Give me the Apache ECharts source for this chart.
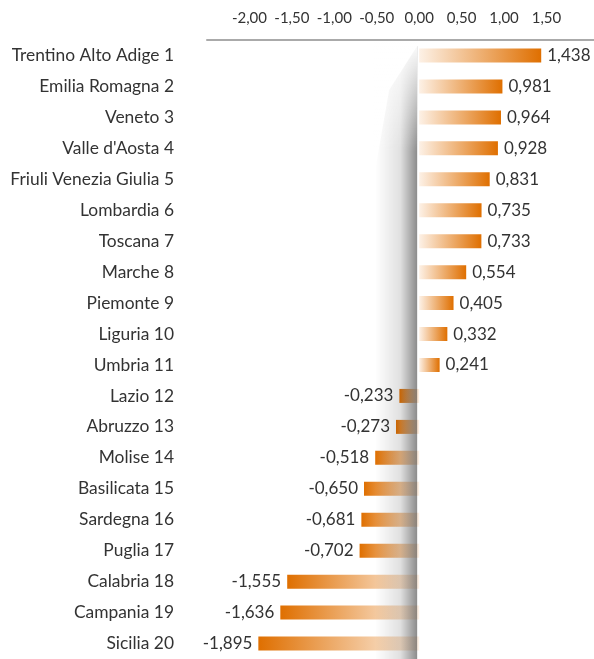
<!DOCTYPE html>
<html>
<head>
<meta charset="utf-8">
<script src="https://cdn.jsdelivr.net/npm/echarts@6/dist/echarts.min.js"></script>
<style>
    html, body { margin: 0; padding: 0; background: #fff; }
    #grafico { width: 594px; height: 659px; }
</style>
</head>
<body>
<div id="grafico" data-grafico></div>
<script>
const regioni = [
    'Trentino Alto Adige 1', 'Emilia Romagna 2', 'Veneto 3', "Valle d'Aosta 4",
    'Friuli Venezia Giulia 5', 'Lombardia 6', 'Toscana 7', 'Marche 8', 'Piemonte 9',
    'Liguria 10', 'Umbria 11', 'Lazio 12', 'Abruzzo 13', 'Molise 14', 'Basilicata 15',
    'Sardegna 16', 'Puglia 17', 'Calabria 18', 'Campania 19', 'Sicilia 20'
]
const valori = [
    1.438, 0.981, 0.964, 0.928, 0.831, 0.735, 0.733, 0.554, 0.405, 0.332,
    0.241, -0.233, -0.273, -0.518, -0.650, -0.681, -0.702, -1.555, -1.636, -1.895
]
const tickVisibili = [-2, -1.5, -1, -0.5, 0, 0.5, 1, 1.5]

const scuro = '#df6f00'
const chiaro = '#fdf1e6'

const virgola = (v, d) => v.toFixed(d).replace('.', ',')

const gradiente = (v) => {
    const stops = v >= 0
        ? [{ offset: 0, color: chiaro }, { offset: 1, color: scuro }]
        : [{ offset: 0, color: scuro }, { offset: 1, color: chiaro }]
    return new echarts.graphic.LinearGradient(0, 0, 1, 0, stops)
}

const dom = document.querySelector('[data-grafico]')
const myChart = echarts.init(dom, null, { renderer: 'canvas' })

const option = {
    animation: false,
    textStyle: { fontFamily: 'Lato, sans-serif' },
    grid: { left: 207, right: 0, top: 40, bottom: 0 },
    xAxis: {
        type: 'value',
        position: 'top',
        min: -2.5,
        max: 2.06,
        interval: 0.5,
        axisLine: { show: true, lineStyle: { color: '#aaaaaa', width: 2 } },
        axisTick: { show: false },
        splitLine: { show: false },
        axisLabel: {
            color: '#333',
            fontSize: 15,
            margin: 14,
            showMaxLabel: false,
            formatter: (v) => tickVisibili.some(t => Math.abs(t - v) < 1e-6) ? virgola(v, 2) : ''
        }
    },
    yAxis: {
        type: 'category',
        inverse: true,
        data: regioni,
        axisLine: { show: false },
        axisTick: { show: false },
        axisLabel: { color: '#333', fontSize: 17.4, margin: 33 }
    },
    series: [{
        type: 'bar',
        barWidth: 14,
        data: valori.map(v => ({
            value: v,
            itemStyle: { color: gradiente(v) },
            label: {
                show: true,
                position: v >= 0 ? 'right' : 'left',
                distance: 6,
                color: '#333',
                fontSize: 17,
                formatter: () => virgola(v, 3)
            }
        }))
    }]
}

myChart.setOption(option)

// ombra verticale a sinistra dello zero
const zeroX = myChart.convertToPixel({ xAxisIndex: 0 }, 0)
myChart.setOption({
    graphic: [{
        type: 'polygon',
        z: 100,
        silent: true,
        shape: {
            points: [[zeroX - 2, 46], [zeroX - 30, 90], [zeroX - 44, 170], [zeroX - 44, 659], [zeroX - 2, 659]]
        },
        style: {
            fill: new echarts.graphic.LinearGradient(0, 0, 1, 0, [
                { offset: 0, color: 'rgba(0,0,0,0)' },
                { offset: 0.6, color: 'rgba(0,0,0,0.12)' },
                { offset: 1, color: 'rgba(0,0,0,0.45)' }
            ])
        }
    }, {
        type: 'rect',
        z: 101,
        silent: true,
        shape: { x: zeroX - 46, y: 42, width: 44, height: 110 },
        style: {
            fill: new echarts.graphic.LinearGradient(0, 0, 0, 1, [
                { offset: 0, color: 'rgba(255,255,255,1)' },
                { offset: 1, color: 'rgba(255,255,255,0)' }
            ])
        }
    }]
})
</script>
</body>
</html>
